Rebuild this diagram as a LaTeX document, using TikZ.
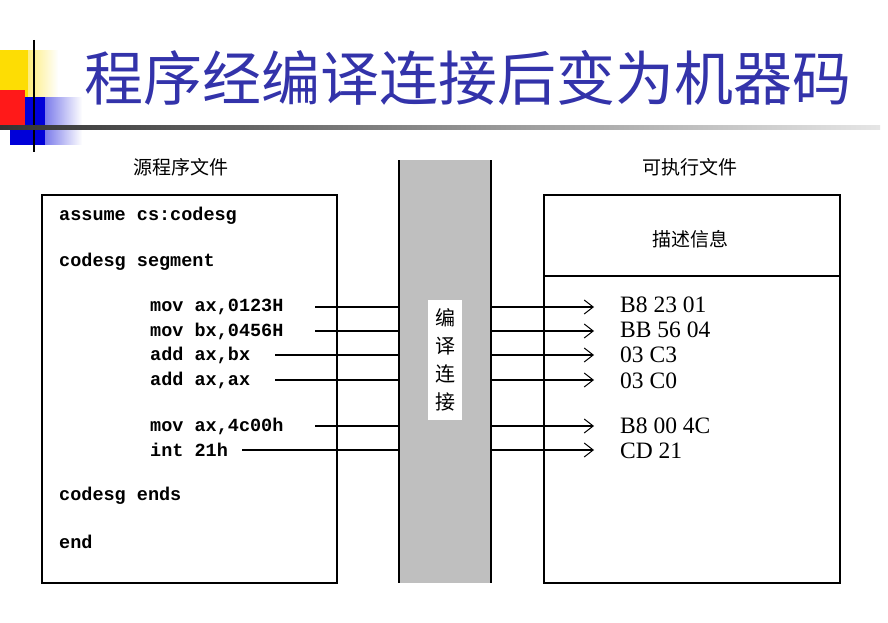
\documentclass[tikz,border=0pt]{standalone}
\usepackage{fontspec}
\setmainfont{Liberation Serif}
\setmonofont{Liberation Mono}
\newfontfamily\cjk{Noto Sans CJK SC}
\usetikzlibrary{arrows.meta,fadings}
\definecolor{titleblue}{RGB}{51,51,170}
\begin{document}
\begin{tikzpicture}[x=1pt,y=-1pt,
  code/.style={anchor=west,font=\ttfamily\bfseries\fontsize{18.5}{20}\selectfont,inner sep=0},
  mc/.style={anchor=west,font=\fontsize{23.5}{26}\selectfont,inner sep=0},
  lab/.style={font=\cjk\fontsize{19}{22}\selectfont},
  arr/.style={line width=1.2pt,-{Straight Barb[length=9pt,width=14pt,line width=1pt]}},
  ln/.style={line width=1.2pt}]
\useasboundingbox (0,0) rectangle (888,623);
\fill[white] (0,0) rectangle (888,623);
% decoration
\fill[yellow!80!orange,path fading=east] (0,50) rectangle (58,97);
\fill[yellow!80!orange] (0,50) rectangle (28,97);
\fill[blue!85!black,path fading=east] (10,97) rectangle (82,145);
\fill[blue!85!black] (10,97) rectangle (45,145);
\fill[red!90!white] (0,90) rectangle (25,128);
\draw[line width=1.3pt] (34,40) -- (34,152);
\shade[left color=black!80,right color=black!10] (0,125.5) rectangle (880,129);
% title
\node[font=\cjk\fontsize{59}{64}\selectfont,text=titleblue,anchor=west,inner sep=0] (title) at (84,78) {程序经编译连接后变为机器码};
% labels
\node[lab] (srclab) at (181,167) {源程序文件};
\node[lab] (exelab) at (690,167) {可执行文件};
% boxes
\draw[line width=1.5pt] (42,195) rectangle (337,583);
\fill[black!25] (399,160) rectangle (491,583);
\draw[line width=1.5pt] (399,160) -- (399,583) (491,160) -- (491,583);
\node[fill=white,inner sep=0,minimum width=34pt,minimum height=120pt,align=center,font=\cjk\fontsize{20}{28}\selectfont] (link) at (445,360) {编\\译\\连\\接};
\draw[line width=1.5pt] (544,195) rectangle (840,583);
\draw[line width=1.5pt] (544,276) -- (840,276);
\node[lab] (desc) at (690,239) {描述信息};
% code
\node[code] (c1) at (59,216) {assume cs:codesg};
\node[code] (c2) at (59,262) {codesg segment};
\node[code] (c3) at (150,307) {mov ax,0123H};
\node[code] (c4) at (150,331) {mov bx,0456H};
\node[code] (c5) at (150,355) {add ax,bx};
\node[code] (c6) at (150,380) {add ax,ax};
\node[code] (c7) at (150,426) {mov ax,4c00h};
\node[code] (c8) at (150,450) {int 21h};
\node[code] (c9) at (59,496) {codesg ends};
\node[code] (c10) at (59,542) {end};
% machine code
\node[mc] (m1) at (620,305) {B8 23 01};
\node[mc] (m2) at (620,330) {BB 56 04};
\node[mc] (m3) at (620,355) {03 C3};
\node[mc] (m4) at (620,381) {03 C0};
\node[mc] (m5) at (620,426) {B8 00 4C};
\node[mc] (m6) at (620,451) {CD 21};
% connectors
\foreach \c/\m/\y/\s in {c3/m1/307/315,c4/m2/331/315,c5/m3/355/275,c6/m4/380/275,c7/m5/426/315,c8/m6/450/242}{
  \coordinate (S\c) at (\s,\y);
  \coordinate (L\c) at (399,\y);
  \coordinate (R\c) at (491,\y);
  \coordinate (E\c) at (594,\y);
  \draw[ln] (S\c) -- (L\c);
  \draw[arr] (R\c) -- (E\c);
}
\end{tikzpicture}
\end{document}
